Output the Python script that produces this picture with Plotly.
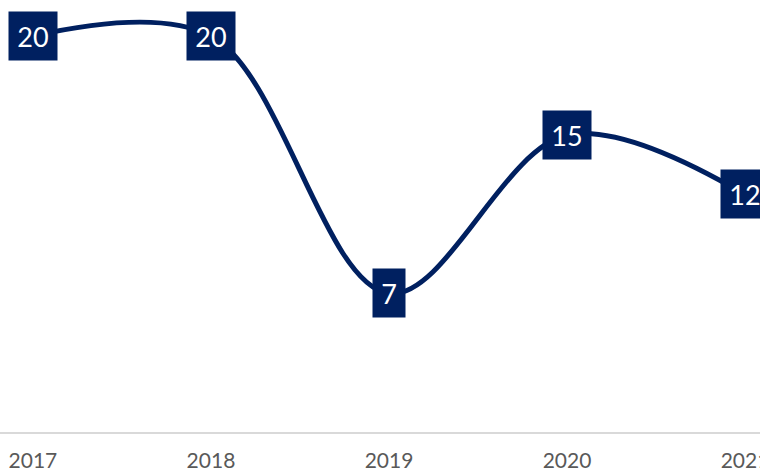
import plotly.graph_objects as go

years = ["2017", "2018", "2019", "2020", "2021"]
values = [20, 20, 7, 15, 12]

navy = "#002060"

fig = go.Figure()
fig.add_trace(go.Scatter(
    x=years, y=values, mode="lines",
    line=dict(color=navy, width=5, shape="spline", smoothing=1.0),
    cliponaxis=False, hoverinfo="skip",
))

for i, yv in enumerate(values):
    txt = str(yv)
    fig.add_annotation(
        x=i, y=yv, xref="x", yref="y", text=txt, showarrow=False,
        xanchor="center", yanchor="middle",
        bgcolor=navy, borderpad=0,
        width=16 + 16 * len(txt), height=48,
        font=dict(family="Lato", size=27, color="white"),
    )

fig.update_layout(
    width=760, height=471,
    margin=dict(l=0, r=0, t=0, b=39, autoexpand=False),
    paper_bgcolor="white", plot_bgcolor="white",
    showlegend=False,
    xaxis=dict(
        type="category", range=[-0.185, 4.084], automargin=False,
        showgrid=False, zeroline=False,
        showline=True, linecolor="#d9d9d9", linewidth=1.5,
        ticks="outside", ticklen=9, tickcolor="rgba(0,0,0,0)",
        tickfont=dict(family="Lato", size=21, color="#595959"),
    ),
    yaxis=dict(
        range=[0, 21.82], showticklabels=False, showline=False,
        showgrid=False, zeroline=False, automargin=False,
    ),
)

fig.write_html("out.html", config={"displayModeBar": False},
               post_script="document.body.style.margin='0';")
